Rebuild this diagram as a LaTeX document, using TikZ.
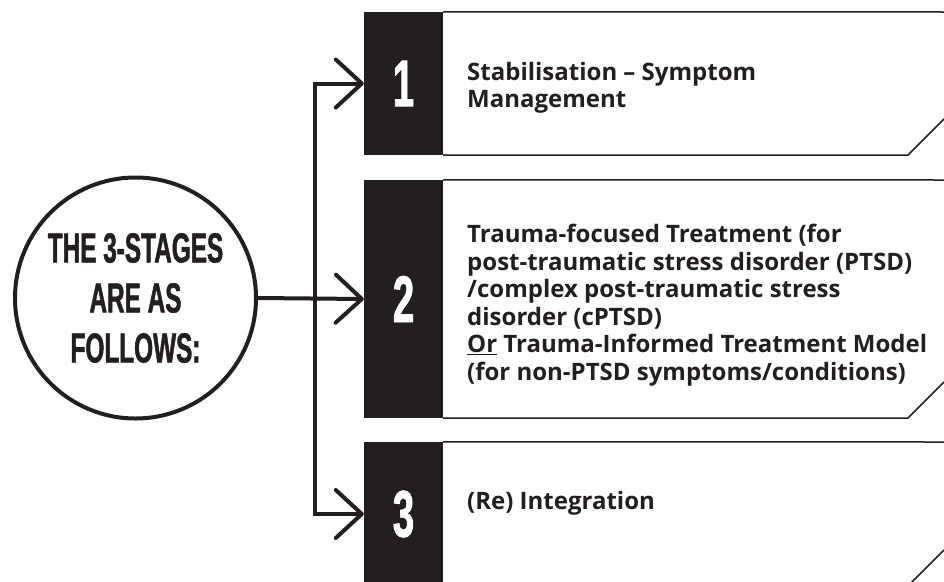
\documentclass[tikz,border=0pt]{standalone}
\usepackage{fontspec}
\setmainfont{Open Sans}
\newfontfamily\posterfont{Liberation Sans}[FakeStretch=0.58,FakeBold=1.2]
\usetikzlibrary{positioning,arrows.meta}
\definecolor{ink}{HTML}{231F20}
\tikzset{>={Straight Barb[length=26pt,width=48pt,round]}}

\begin{document}
\begin{tikzpicture}[x=1pt,y=-1pt]

    \def\xNum{403.5}
    \def\xSpine{315}
    \def\xText{467}
    \def\xFold{908}
    \def\xEdge{944}
    \def\yTopOne{12}
    \def\yBotOne{155}
    \def\yTopTwo{180}
    \def\yBotTwo{418}
    \def\yTopThree{442}
    \def\yBotThree{586}

    \def\widthNum{79pt}

    \useasboundingbox (0,0) rectangle (944,581);
    \clip (0,0) rectangle (944,581);

    \tikzset{
        numbox/.style={fill=ink,text=white,minimum width=\widthNum,inner sep=0pt,
            font=\posterfont\bfseries\fontsize{66}{66}\selectfont},
        stagetext/.style={anchor=west,align=left,inner sep=0pt,text=ink,
            font=\bfseries\fontsize{24}{27.5}\selectfont},
        frame/.style={draw=ink,line width=1.5pt},
        link/.style={draw=ink,line width=4pt,->}
    }

    \node
        [circle,draw=ink,line width=4pt,minimum size=241pt,inner sep=0pt,align=center,
         text=ink,font=\posterfont\bfseries\fontsize{42}{50}\selectfont]
        at (135.5,298)
        (intro) {THE 3-STAGES\\ARE AS\\FOLLOWS:};

    \node
        [numbox,minimum height=143pt]
        at (\xNum,83.5)
        (num1) {1};
    \node
        [numbox,minimum height=238pt]
        at (\xNum,299)
        (num2) {2};
    \node
        [numbox,minimum height=144pt]
        at (\xNum,514)
        (num3) {3};

    \node
        [stagetext]
        at (\xText,88)
        (stage1) {Stabilisation -- Symptom\\Management};
    \node
        [stagetext]
        at (\xText,305)
        (stage2) {Trauma-focused Treatment (for\\
            post-traumatic stress disorder (PTSD)\\
            /complex post-traumatic stress\\
            disorder (cPTSD)\\
            \underline{Or} Trauma-Informed Treatment Model\\
            (for non-PTSD symptoms/conditions)};
    \node
        [stagetext]
        at (\xText,503)
        (stage3) {(Re) Integration};

    % panel outlines
    \draw[frame] (num1.north east) -- (\xEdge,\yTopOne);
    \draw[frame] (num1.south east) -- (\xFold,\yBotOne) -- (\xEdge,\yBotOne-36);
    \draw[frame] (num2.north east) -- (\xEdge,\yTopTwo);
    \draw[frame] (num2.south east) -- (\xFold,\yBotTwo) -- (\xEdge,\yBotTwo-36);
    \draw[frame] (num3.north east) -- (\xEdge,\yTopThree);
    \draw[frame] (num3.south east) -- (\xFold,\yBotThree) -- (\xEdge,\yBotThree-36);

    \coordinate (fork) at (\xSpine,298);

    \draw[link] (intro.east) -- (num2.west);
    \draw[link] (fork) |- (num1.west);
    \draw[link] (fork) |- (num3.west);

\end{tikzpicture}
\end{document}
